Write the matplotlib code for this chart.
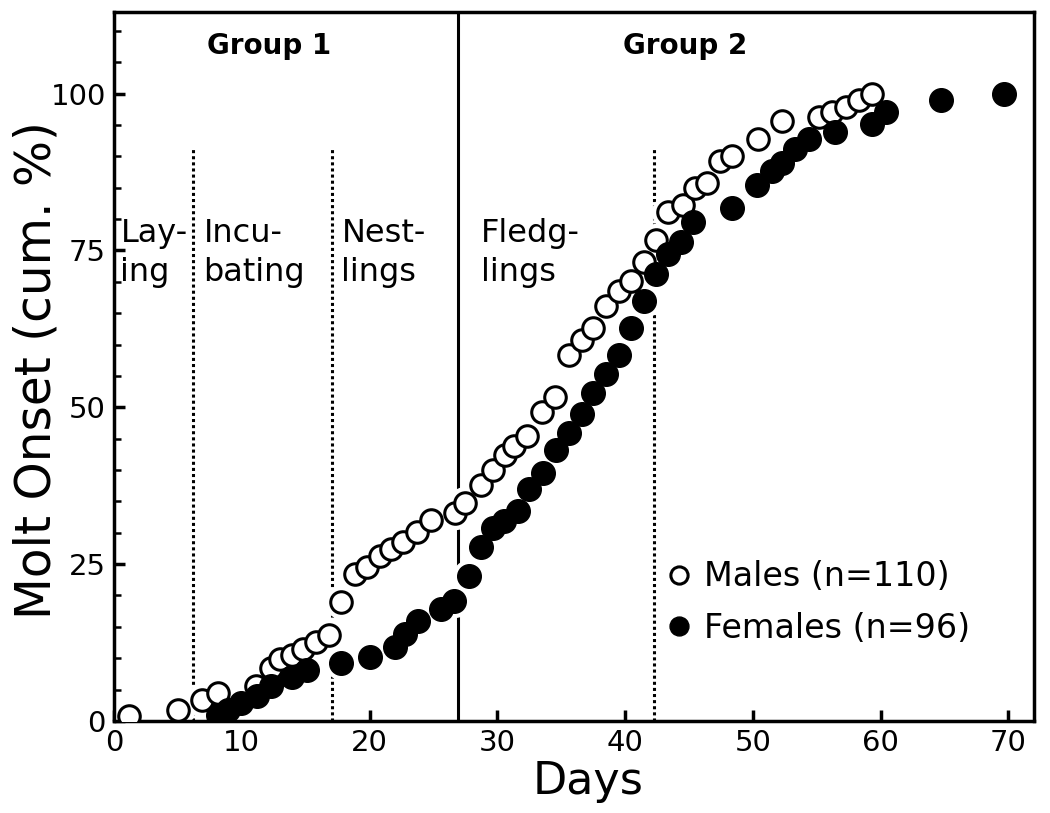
import numpy as np
import matplotlib
matplotlib.use("Agg")
import matplotlib.pyplot as plt
from matplotlib.ticker import MultipleLocator

# cumulative molt onset
male_days = [1.2, 5.0, 6.9, 8.1, 11.1, 12.3, 13.0, 13.9, 14.8, 15.8, 16.8, 17.8,
             18.9, 19.8, 20.8, 21.7, 22.6, 23.7, 24.8, 26.7, 27.5, 28.7, 29.7,
             30.6, 31.3, 32.3, 33.5, 34.5, 35.6, 36.6, 37.5, 38.5, 39.5, 40.5,
             41.5, 42.4, 43.4, 44.5, 45.5, 46.4, 47.4, 48.4, 50.4, 52.3, 55.2,
             56.2, 57.3, 58.3, 59.3]
male_pct = [0.8, 1.8, 3.3, 4.5, 5.6, 8.4, 9.9, 10.5, 11.5, 12.6, 13.7, 18.9,
            23.4, 24.5, 26.3, 27.4, 28.5, 30.1, 32.0, 33.1, 34.7, 37.6, 40.0,
            42.4, 43.9, 45.4, 49.2, 51.6, 58.3, 60.8, 62.6, 66.2, 68.6, 70.2,
            73.1, 76.6, 81.1, 82.2, 84.9, 85.7, 89.3, 90.1, 92.8, 95.7, 96.2,
            97.0, 97.8, 98.9, 100.0]

female_days = [8.1, 8.9, 9.9, 11.2, 12.3, 13.9, 15.1, 17.8, 20.0, 22.0, 22.8,
               23.8, 25.6, 26.6, 27.8, 28.7, 29.7, 30.5, 31.6, 32.5, 33.6, 34.6,
               35.6, 36.6, 37.5, 38.5, 39.5, 40.5, 41.5, 42.4, 43.4, 44.4, 45.3,
               48.4, 50.3, 51.5, 52.3, 53.3, 54.4, 56.4, 59.3, 60.4, 64.7, 69.7]
female_pct = [1.0, 1.8, 2.9, 4.0, 5.6, 7.0, 8.1, 9.2, 10.2, 11.8, 13.9, 15.9,
              17.8, 19.1, 23.1, 27.7, 30.7, 31.8, 33.4, 36.9, 39.5, 43.2, 45.9,
              49.0, 52.2, 55.3, 58.3, 62.6, 67.0, 71.2, 74.4, 76.3, 79.5, 81.7,
              85.5, 87.7, 88.9, 91.2, 92.8, 93.8, 95.2, 97.0, 98.9, 100.0]

# breeding phase boundaries
phase_lines = [6.2, 17.1, 42.3]
group_split = 26.9
phase_labels = ["Lay-\ning", "Incu-\nbating", "Nest-\nlings", "Fledg-\nlings"]
phase_x = [0.5, 7.0, 17.8, 28.7]
group_labels = ["Group 1", "Group 2"]
group_x = [12.1, 44.7]

plt.rcParams['font.family'] = ['DejaVu Sans']

fig = plt.figure(figsize=(10.5, 8.13), dpi=100)
ax = fig.add_axes([0.1086, 0.1132, 0.8760, 0.8720])

for x in phase_lines:
    ax.plot([x, x], [0, 91.2], color='black', linestyle=(0, (1, 1)), linewidth=2.2, zorder=1)
ax.axvline(group_split, color='black', linewidth=2.2, zorder=1)

# white halos so the guide lines break around the points
ax.plot(male_days, male_pct, 'o', color='white', markersize=23, zorder=2)
ax.plot(female_days, female_pct, 'o', color='white', markersize=23, zorder=2)

ax.plot(male_days, male_pct, 'o', markerfacecolor='white', markeredgecolor='black',
        markeredgewidth=2.2, markersize=15.5, zorder=3, label='Males (n=110)')
ax.plot(female_days, female_pct, 'o', color='black', markersize=17, zorder=4,
        label='Females (n=96)')

for lab, x in zip(group_labels, group_x):
    ax.text(x, 107.6, lab, ha='center', va='center', fontsize=20, fontweight='bold')
for lab, x in zip(phase_labels, phase_x):
    ax.text(x, 74.6, lab, ha='left', va='center', fontsize=23, linespacing=1.32)

ax.set_xlim(0, 72)
ax.set_ylim(0, 113)
ax.xaxis.set_major_locator(MultipleLocator(10))
ax.yaxis.set_major_locator(MultipleLocator(25))
ax.yaxis.set_minor_locator(MultipleLocator(5))
ax.tick_params(which='major', direction='in', length=8, width=2.5, labelsize=21, pad=6)
ax.tick_params(which='minor', direction='in', length=5, width=1.8)
for s in ax.spines.values():
    s.set_linewidth(2.5)

ax.set_xlabel('Days', fontsize=32)
ax.xaxis.set_label_coords(0.515, -0.055)
ax.set_ylabel('Molt Onset (cum. %)', fontsize=35)
ax.yaxis.set_label_coords(-0.058, 0.495)

leg = ax.legend(loc='upper left', bbox_to_anchor=(0.578, 0.25), frameon=False,
                fontsize=24, handletextpad=0.25, labelspacing=0.55, markerscale=0.8,
                borderpad=0, handlelength=1.0)

fig.savefig('out.png', dpi=100)
